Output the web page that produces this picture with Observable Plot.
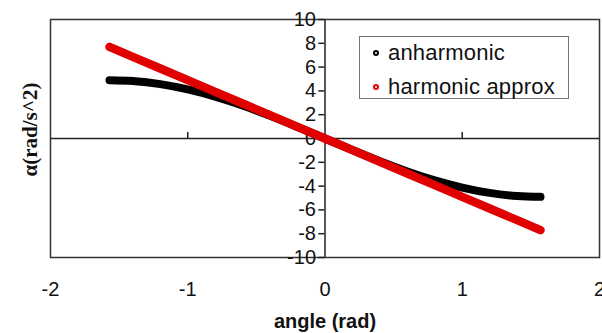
<!DOCTYPE html>
<html>
<head>
<meta charset="utf-8">
<script src="https://cdn.jsdelivr.net/npm/d3@7"></script>
<script src="https://cdn.jsdelivr.net/npm/@observablehq/plot@0.6"></script>
<style>
  html, body { margin: 0; padding: 0; background: #fff; }
  #wrap { position: relative; width: 602px; height: 333px; font-family: "Liberation Sans", Arial, sans-serif; }
  #legend { position: absolute; left: 359px; top: 36px; width: 210px; height: 63px; border: 1px solid #777; box-sizing: border-box; background: #fff; font-size: 22px; color: #111; }
  #legend .row { position: absolute; left: 0; height: 26px; line-height: 26px; white-space: nowrap; }
  #legend .dot { position: absolute; left: 13px; top: 10px; width: 2px; height: 2px; border-radius: 50%; border: 2px solid; box-sizing: content-box; }
  #legend .lab { position: absolute; left: 28px; top: 0; letter-spacing: 0.2px; }
  svg [aria-label="x-axis label"] text, svg [aria-label="x-axis label"] { font-weight: bold; }
</style>
</head>
<body>
<div id="wrap"></div>
<script>
// angle (rad)
const angle = [-1.57, -1.4, -1.2, -1.0, -0.8, -0.6, -0.4, -0.2, 0, 0.2, 0.4, 0.6, 0.8, 1.0, 1.2, 1.4, 1.57];
// α anharmonic (rad/s^2)
const anharmonic = [4.9, 4.83, 4.57, 4.12, 3.52, 2.77, 1.91, 0.97, 0, -0.97, -1.91, -2.77, -3.52, -4.12, -4.57, -4.83, -4.9];
// α harmonic approx (rad/s^2)
const harmonic = [7.7, 6.86, 5.88, 4.9, 3.92, 2.94, 1.96, 0.98, 0, -0.98, -1.96, -2.94, -3.92, -4.9, -5.88, -6.86, -7.7];
const xTicks = [-2, -1, 0, 1, 2];
const yTicks = [-10, -8, -6, -4, -2, 0, 2, 4, 6, 8, 10];
const seriesNames = ["anharmonic", "harmonic approx"];
const seriesColors = ["#000000", "#e00000"];

const anData = angle.map((a, i) => ({angle: a, alpha: anharmonic[i]}));
const haData = angle.map((a, i) => ({angle: a, alpha: harmonic[i]}));

const chart = Plot.plot({
  width: 602,
  height: 333,
  marginLeft: 50,
  marginRight: 3,
  marginTop: 19,
  marginBottom: 76,
  style: {fontFamily: "Liberation Sans, Arial, sans-serif", fontSize: "20px", color: "#111", background: "#fff"},
  x: {domain: [-2, 2]},
  y: {domain: [-10, 10], axis: null},
  marks: [
    Plot.frame({stroke: "#333", strokeWidth: 1.5}),
    Plot.ruleX([0], {stroke: "#222", strokeWidth: 1.5}),
    Plot.ruleY([0], {stroke: "#222", strokeWidth: 1.5}),
    Plot.ruleY(yTicks, {x1: -0.045, x2: 0, stroke: "#222", strokeWidth: 1.5}),
    Plot.ruleX([-1, 1], {y1: 0, y2: 0.5, stroke: "#222", strokeWidth: 1.5}),
    Plot.text(yTicks, {x: 0, y: d => d, text: d => String(d), textAnchor: "end", dx: -9, fontSize: 20, fill: "#111"}),
    Plot.axisX(xTicks, {tickSize: 0, tickPadding: 24, fontSize: 20, tickFormat: d => String(d), label: "angle (rad)", labelAnchor: "center", labelArrow: "none", labelOffset: 70}),
    Plot.line(anData, {x: "angle", y: "alpha", stroke: seriesColors[0], strokeWidth: 8, curve: "natural", strokeLinecap: "round"}),
    Plot.line(haData, {x: "angle", y: "alpha", stroke: seriesColors[1], strokeWidth: 8.5, curve: "linear", strokeLinecap: "round"}),
    Plot.text(["α(rad/s^2)"], {frameAnchor: "left", textAnchor: "middle", rotate: -90, dx: -20, dy: -9, fontFamily: "Liberation Serif, Times New Roman, serif", fontWeight: "bold", fontSize: 21, fill: "#111"})
  ]
});
const wrap = document.getElementById("wrap");
wrap.appendChild(chart);

const legend = document.createElement("div");
legend.id = "legend";
seriesNames.forEach((name, i) => {
  const row = document.createElement("div");
  row.className = "row";
  row.style.top = (3 + i * 34) + "px";
  const dot = document.createElement("span");
  dot.className = "dot";
  dot.style.borderColor = seriesColors[i];
  const lab = document.createElement("span");
  lab.className = "lab";
  lab.textContent = name;
  row.appendChild(dot);
  row.appendChild(lab);
  legend.appendChild(row);
});
wrap.appendChild(legend);
</script>
</body>
</html>
